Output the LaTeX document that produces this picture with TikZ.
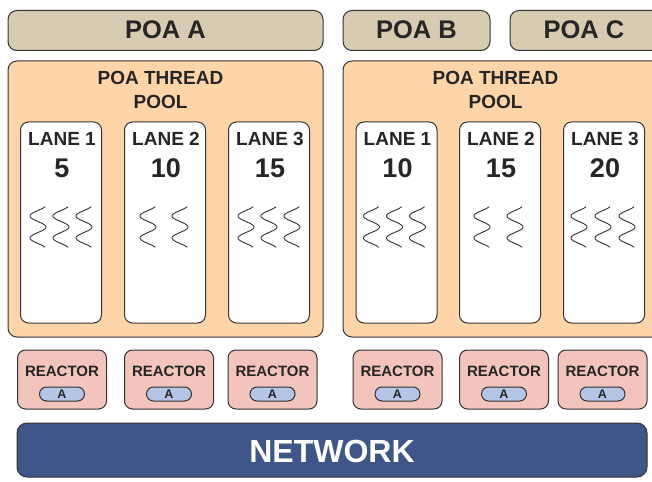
\documentclass[tikz,border=0pt]{standalone}
\usepackage{fontspec}
\setmainfont{Liberation Sans}
\definecolor{edge}{RGB}{51,51,51}
\definecolor{poatan}{RGB}{215,203,177}
\definecolor{poolpeach}{RGB}{253,213,168}
\definecolor{reactorpink}{RGB}{242,196,187}
\definecolor{pillblue}{RGB}{180,197,230}
\definecolor{netblue}{RGB}{63,86,136}
\begin{document}
\begin{tikzpicture}[x=1pt,y=-1pt,
  box/.style={draw=edge, line width=1pt, rounded corners=9pt, inner sep=0pt},
  poabox/.style={box, fill=poatan, minimum height=40pt},
  poatext/.style={font=\fontsize{25.5}{30}\bfseries\selectfont, text=black!85},
  poolbox/.style={box, fill=poolpeach, minimum height=276pt},
  pooltext/.style={align=center, font=\fontsize{19}{24}\bfseries\selectfont, text=black!85},
  lanebox/.style={box, fill=white, rounded corners=8pt, minimum width=81pt, minimum height=201pt},
  lanetext/.style={font=\fontsize{19}{22}\bfseries\selectfont, text=black!85},
  lanenum/.style={font=\fontsize{27}{30}\bfseries\selectfont, text=black!85},
  thread/.style={draw=edge, line width=0.9pt, line cap=round},
  reactorbox/.style={box, fill=reactorpink, rounded corners=8pt, minimum width=89pt, minimum height=59pt},
  reactortext/.style={font=\fontsize{15}{18}\bfseries\selectfont, text=black!85},
  pill/.style={draw=edge, line width=1pt, fill=pillblue, rounded corners=7pt, minimum width=45pt, minimum height=14pt, inner sep=0pt, font=\fontsize{12.5}{14}\bfseries\selectfont, text=black!85},
  netbox/.style={box, fill=netblue, rounded corners=10pt, minimum width=630pt, minimum height=54pt},
  nettext/.style={font=\fontsize{32}{36}\bfseries\selectfont, text=white}
]
\clip (0,0) rectangle (652,481);

% POA headers
\node[poabox, minimum width=315pt] (poaA) at (165.5,30.5) {};
\node[poatext] (poaAtxt) at (165.5,29.5) {POA A};
\node[poabox, minimum width=147pt] (poaB) at (416.5,30.5) {};
\node[poatext] (poaBtxt) at (416.5,29.5) {POA B};
\node[poabox, minimum width=160pt] (poaC) at (590,30.5) {};
\node[poatext] (poaCtxt) at (584,29.5) {POA C};

% thread pools
\node[poolbox, minimum width=315pt] (poolA) at (165.5,199) {};
\node[pooltext] (poolAtxt) at (160.5,90) {POA THREAD\\POOL};
\node[poolbox, minimum width=322pt] (poolB) at (504,199) {};
\node[pooltext] (poolBtxt) at (495.5,90) {POA THREAD\\POOL};

% lanes: name / centre x / lane number / priority / thread offsets
\foreach \nm/\cx/\ln/\pr/\offs in {
    laneA1/61/1/5/{-23,0,23},
    laneA2/165/2/10/{-17,15},
    laneA3/269/3/15/{-23,0,23},
    laneB1/396.5/1/10/{-25,-2,21},
    laneB2/500/2/15/{-18,15},
    laneB3/604/3/20/{-25,-1,23}} {
  \node[lanebox] (\nm) at (\cx,222.5) {};
  \node[lanetext] (\nm txt) at (\cx+1,139) {LANE \ln};
  \node[lanenum] (\nm num) at (\cx+1,168) {\pr};
  % each thread is a wavy vertical stroke
  \foreach \o in \offs {
    \draw[thread] plot[domain=30:690, samples=100, smooth, variable=\p]
      ({\cx+\o+8*cos(\p)}, {216+(\p-180)*22/360});
  }
}

% reactors
\foreach \i/\cx in {1/62, 2/169, 3/272.5, 4/397.5, 5/504, 6/602.5} {
  \node[reactorbox] (reactor\i) at (\cx,379.5) {};
  \node[reactortext] (reactor\i txt) at (\cx,371) {REACTOR};
  \node[pill] (pill\i) at (\cx,394) {A};
}

% network
\node[netbox] (network) at (332,450) {};
\node[nettext] (networktxt) at (332,451.5) {NETWORK};
\end{tikzpicture}
\end{document}
